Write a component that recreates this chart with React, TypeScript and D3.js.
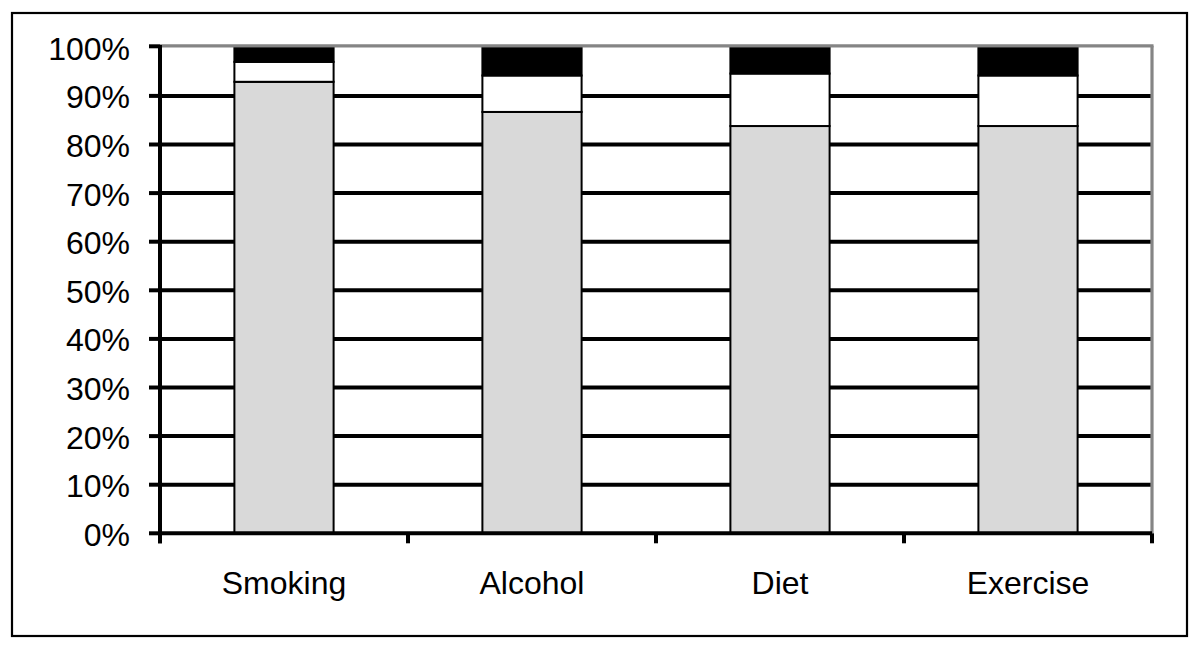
import React from "react";
import * as d3 from "d3";

const categories = ["Smoking", "Alcohol", "Diet", "Exercise"];
const seriesKeys = ["grey", "white", "black"];
const greyValues = [92.9, 86.7, 83.8, 83.8];
const whiteValues = [4.1, 7.5, 10.8, 10.4];
const blackValues = [3.0, 5.8, 5.4, 5.8];
const yTicks = [0, 10, 20, 30, 40, 50, 60, 70, 80, 90, 100];
const seriesColors = ["#d9d9d9", "#ffffff", "#000000"];

const W = 1200;
const H = 648;
const left = 160;
const right = 1152;
const top = 47.3;
const bottom = 533.3;
const font = "Arial, 'Liberation Sans', sans-serif";

export default function App() {
  const rows = categories.map((c, i) => ({
    cat: c,
    grey: greyValues[i],
    white: whiteValues[i],
    black: blackValues[i],
  }));
  const stack = d3.stack<any>().keys(seriesKeys)(rows);
  const x = d3.scaleBand().domain(categories).range([left, right]).paddingInner(0.6).paddingOuter(0.3);
  const y = d3.scaleLinear().domain([0, 100]).range([bottom, top]);
  const step = x.step();
  const boundaries = d3.range(categories.length + 1).map((i) => left + i * step);

  return (
    <svg width={W} height={H} style={{ position: "absolute", left: 0, top: 0, background: "#fff" }}>
      <rect x={0} y={0} width={W} height={H} fill="#fff" />
      <rect x={12} y={13} width={1175} height={623} fill="none" stroke="#000" strokeWidth={2.2} />
      {/* gridlines */}
      {yTicks.filter((t) => t > 0 && t < 100).map((t) => (
        <line key={t} x1={left} x2={right} y1={y(t)} y2={y(t)} stroke="#000" strokeWidth={4} />
      ))}
      {/* plot border gray */}
      <line x1={left} x2={right + 1.5} y1={45.8} y2={45.8} stroke="#858585" strokeWidth={3.2} />
      <line x1={right} x2={right} y1={45.8} y2={bottom} stroke="#858585" strokeWidth={3.2} />
      {/* bars */}
      {stack.map((s, si) => (
        <g key={s.key}>
          {s.map((d, i) => (
            <rect
              key={i}
              x={x(categories[i])!}
              width={x.bandwidth()}
              y={y(d[1]) + (d[1] >= 100 ? 1 : 0)}
              height={y(d[0]) - y(d[1]) - (d[1] >= 100 ? 1 : 0)}
              fill={seriesColors[si]}
              stroke="#000"
              strokeWidth={2}
            />
          ))}
        </g>
      ))}
      {/* axes */}
      <line x1={left} x2={right} y1={bottom} y2={bottom} stroke="#000" strokeWidth={4} />
      {boundaries.map((bx, i) => (
        <line key={i} x1={bx} x2={bx} y1={bottom} y2={bottom + 10} stroke="#000" strokeWidth={4} />
      ))}
      <line x1={left} x2={left} y1={45} y2={bottom + 10} stroke="#000" strokeWidth={4} />
      {yTicks.map((t) => (
        <line key={t} x1={left - 11} x2={left} y1={y(t) - (t === 100 ? 1 : 0)} y2={y(t) - (t === 100 ? 1 : 0)} stroke="#000" strokeWidth={4} />
      ))}
      {yTicks.map((t) => (
        <text key={t} x={130} y={y(t) + 1.5} textAnchor="end" dominantBaseline="central" fontFamily={font} fontSize={32} fill="#000">
          {t + "%"}
        </text>
      ))}
      {categories.map((c) => (
        <text key={c} x={x(c)! + x.bandwidth() / 2} y={594} textAnchor="middle" fontFamily={font} fontSize={32} fill="#000">
          {c}
        </text>
      ))}
    </svg>
  );
}
